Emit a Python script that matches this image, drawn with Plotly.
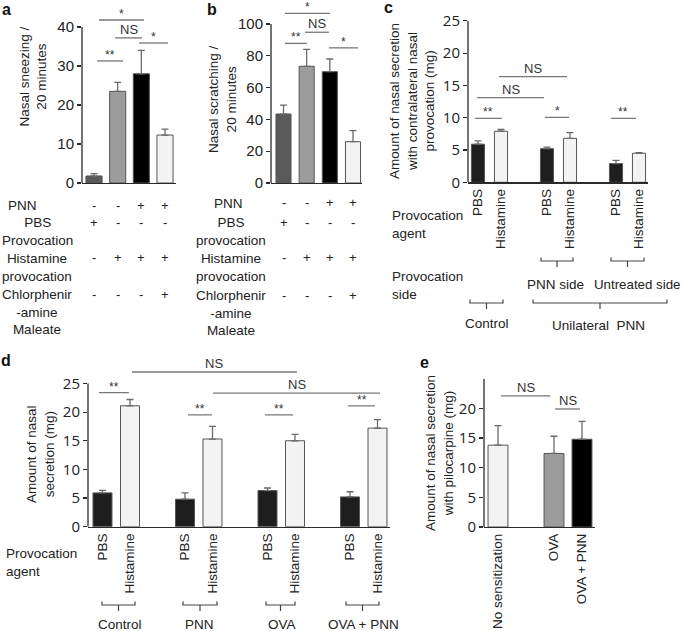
import plotly.graph_objects as go

W, H = 685, 631

# ---------------- data ----------------
a_values = [1.8, 23.5, 28.0, 12.3]
a_errors = [0.6, 2.3, 6.0, 1.5]
b_values = [43.4, 73.4, 70.0, 26.0]
b_errors = [5.6, 10.6, 8.0, 7.0]
a_row_labels = ["PNN", "PBS<br>Provocation", "Histamine<br>provocation", "Chlorphenir<br>-amine<br>Maleate"]
b_row_labels = ["PNN", "PBS<br>provocation", "Histamine<br>provocation", "Chlorphenir<br>-amine<br>Maleate"]
ab_signs = [["-", "-", "+", "+"],
            ["+", "-", "-", "-"],
            ["-", "+", "+", "+"],
            ["-", "-", "-", "+"]]

c_agents = ["PBS", "Histamine", "PBS", "Histamine", "PBS", "Histamine"]
c_values = [5.9, 7.9, 5.2, 6.8, 2.9, 4.5]
c_errors = [0.5, 0.3, 0.25, 0.9, 0.5, 0.1]

d_agents = ["PBS", "Histamine"] * 4
d_groups = ["Control", "PNN", "OVA", "OVA + PNN"]
d_values = [5.9, 21.1, 4.8, 15.3, 6.3, 15.0, 5.2, 17.2]
d_errors = [0.45, 1.1, 1.1, 2.2, 0.45, 1.1, 0.9, 1.5]

e_labels = ["No sensitization", "OVA", "OVA + PNN"]
e_values = [13.8, 12.4, 14.8]
e_errors = [3.3, 2.9, 3.0]

# significance bars: (from, to, height, label)
a_sig = [(0.13, 1.23, 31.3, "**"), (0.21, 2.11, 41.8, "*"), (0.89, 2.03, 37.2, "NS"), (1.9, 3.13, 35.9, "*")]
b_sig = [(0.06, 2.01, 106.7, "*"), (0.93, 1.96, 94.8, "NS"), (0.06, 1.01, 87.8, "**"), (1.96, 3.22, 85.0, "*")]
c_sig = [(-0.13, 1.04, 9.9, "**"), (2.91, 3.96, 10.05, "*"), (5.78, 6.87, 9.9, "**"),
         (-0.04, 2.87, 13.1, "NS"), (0.91, 3.87, 16.35, "NS")]
d_sig = [(-0.13, 0.96, 23.4, "**"), (3.11, 3.98, 19.5, "**"), (5.91, 6.93, 19.5, "**"), (8.93, 9.91, 21.1, "**"),
         (1.07, 7.07, 27.0, "NS"), (4.02, 10.09, 23.3, "NS")]
e_sig = [(0.11, 1.86, 22.1, "NS"), (2.04, 2.93, 19.9, "NS")]

# ---------------- styles ----------------
TXT = "#222222"
AX = "#2a2a2a"
SIGC = "#777777"
ARIAL = "Liberation Sans, Arial, sans-serif"
CAL = "Open Sans, sans-serif"
DARK, MID, BLACK, LIGHT = "#595959", "#9c9c9c", "#000000", "#f3f3f3"
BLK2 = "#1e1e1e"

def pxx(x):
    return x / W

def pyy(y):
    return 1 - y / H

# panel geometry (pixel layout)
geo = {
    "a": dict(xl=82, xr=176, c0=94, u=23.67, y0=183, ys=3.9, yt=8, ymax=40, dt=10, bw=0.68, yfont=ARIAL, yfs=15),
    "b": dict(xl=271, xr=362, c0=283.5, u=23.17, y0=183, ys=1.59, yt=6, ymax=100, dt=20, bw=0.65, yfont=ARIAL, yfs=15),
    "c": dict(xl=468, xr=648, c0=478, u=23, y0=182.3, ys=6.46, yt=20.7, ymax=25, dt=5, bw=0.57, yfont=CAL, yfs=15),
    "d": dict(xl=88, xr=390, c0=102.5, u=27.5, y0=526.7, ys=5.73, yt=362, ymax=25, dt=5, bw=0.69, yfont=CAL, yfs=15),
    "e": dict(xl=484, xr=595, c0=498, u=28, y0=527, ys=5.93, yt=379, ymax=25, dt=5, bw=0.71, yfont=CAL, yfs=15),
}

fig = go.Figure()
shapes = []
annotations = []

c_pos = [g * 3 + i for g in range(3) for i in range(2)]
d_pos = [g * 3 + i for g in range(4) for i in range(2)]
e_pos = [0, 2, 3]

panel_data = {
    "a": (list(range(4)), a_values, a_errors, [DARK, MID, BLACK, LIGHT], a_sig),
    "b": (list(range(4)), b_values, b_errors, [DARK, MID, BLACK, LIGHT], b_sig),
    "c": (c_pos, c_values, c_errors, [BLK2, LIGHT] * 3, c_sig),
    "d": (d_pos, d_values, d_errors, [BLK2, LIGHT] * 4, d_sig),
    "e": (e_pos, e_values, e_errors, [LIGHT, MID, BLACK], e_sig),
}

layout_axes = {}
for n, key in enumerate(["a", "b", "c", "d", "e"], start=1):
    g = geo[key]
    xr = "x" if n == 1 else f"x{n}"
    yr = "y" if n == 1 else f"y{n}"
    xa = "xaxis" if n == 1 else f"xaxis{n}"
    ya = "yaxis" if n == 1 else f"yaxis{n}"
    pos, vals, errs, cols, sig = panel_data[key]

    fig.add_trace(go.Bar(
        x=pos, y=vals, width=g["bw"], xaxis=xr, yaxis=yr,
        marker=dict(color=cols, line=dict(color="#555555", width=1)),
        error_y=dict(type="data", array=errs, arrayminus=[0] * len(errs), symmetric=False,
                     color="#6a6a6a", thickness=1.3, width=3.5),
        hoverinfo="skip",
    ))

    xrange = [(g["xl"] - g["c0"]) / g["u"], (g["xr"] - g["c0"]) / g["u"]]
    yrange = [0, (g["y0"] - g["yt"]) / g["ys"]]
    xax = dict(domain=[pxx(g["xl"]), pxx(g["xr"])], range=xrange, anchor=yr, automargin=False,
               showline=True, linecolor=AX, linewidth=1.3, showgrid=False, zeroline=False,
               ticks="", showticklabels=False, fixedrange=True)
    if key == "c":
        xax.update(showticklabels=True, tickvals=c_pos, ticktext=c_agents, tickangle=-90,
                   tickfont=dict(family=ARIAL, size=13.5, color=TXT))
    if key == "d":
        xax.update(showticklabels=True, tickvals=d_pos, ticktext=d_agents, tickangle=-90,
                   tickfont=dict(family=ARIAL, size=13.5, color=TXT))
    if key == "e":
        xax.update(showticklabels=True, tickvals=e_pos, ticktext=e_labels, tickangle=-90,
                   tickfont=dict(family=ARIAL, size=13.5, color=TXT))
    layout_axes[xa] = xax
    layout_axes[ya] = dict(domain=[pyy(g["y0"]), pyy(g["yt"])], range=yrange, anchor=xr, automargin=False,
                           showline=False, showgrid=False, zeroline=False,
                           tickmode="linear", tick0=0, dtick=g["dt"],
                           ticks="outside", ticklen=4, tickwidth=1.2, tickcolor=AX,
                           tickfont=dict(family=g["yfont"], size=g["yfs"], color=TXT),
                           fixedrange=True)
    # y axis line only up to the top tick
    shapes.append(dict(type="line", xref=f"{xr} domain", yref=yr, x0=0, x1=0, y0=0, y1=g["ymax"],
                       line=dict(color=AX, width=1.3)))
    # significance bars
    for (s0, s1, h, lab) in sig:
        shapes.append(dict(type="line", xref=xr, yref=yr, x0=s0, x1=s1, y0=h, y1=h,
                           line=dict(color=SIGC, width=1.3)))
        small = lab != "NS"
        annotations.append(dict(xref=xr, yref=yr, x=(s0 + s1) / 2, y=h, text=lab, showarrow=False,
                                yanchor="bottom", yshift=-3 if small else -1,
                                font=dict(family=ARIAL, size=12 if small else 13, color="#333333")))

# ---------------- panel letters ----------------
for lab, x, y in [("a", 6, 9), ("b", 212, 9), ("c", 388, 8), ("d", 6, 361), ("e", 424, 362)]:
    annotations.append(dict(xref="paper", yref="paper", x=pxx(x), y=pyy(y), text=f"<b>{lab}</b>",
                            showarrow=False, xanchor="center", yanchor="middle",
                            font=dict(family=ARIAL, size=16, color="#111111")))

# ---------------- y axis titles ----------------
titles = [
    ("Nasal sneezing /<br>20 minutes", 33.5, 77),
    ("Nasal scratching /<br>20 minutes", 223, 99),
    ("Amount of nasal secretion<br>with contralateral nasal<br>provocation (mg)", 412, 101),
    ("Amount of nasal<br>secretion (mg)", 40, 454),
    ("Amount of nasal secretion<br>with pilocarpine (mg)", 439, 453),
]
for t, x, y in titles:
    annotations.append(dict(xref="paper", yref="paper", x=pxx(x), y=pyy(y), text=t, textangle=-90,
                            showarrow=False, xanchor="center", yanchor="middle",
                            font=dict(family=ARIAL, size=13.5, color=TXT)))

# ---------------- tables under a and b ----------------
row_y_a = [205, 222, 258, 294]
row_y_b = [203, 222, 258, 295]
for key, xr, labels, lx, rows, pnnx in [("a", "x", a_row_labels, 37, row_y_a, 22),
                                         ("b", "x2", b_row_labels, 231, row_y_b, 228)]:
    for r, (lab, ry) in enumerate(zip(labels, rows)):
        cx = pnnx if r == 0 else lx
        annotations.append(dict(xref="paper", yref="paper", x=pxx(cx), y=pyy(ry - 9), text=lab,
                                showarrow=False, xanchor="center", yanchor="top", align="center",
                                font=dict(family=ARIAL, size=13.5, color=TXT)))
        for i, s in enumerate(ab_signs[r]):
            annotations.append(dict(xref=xr, yref="paper", x=i, y=pyy(ry), text=s, showarrow=False,
                                    xanchor="center", yanchor="middle",
                                    font=dict(family=ARIAL, size=13, color=TXT)))

# ---------------- row labels and brackets for c and d ----------------
def bracket(x0, x1, y, xm=None, up=3.5, down=6):
    if xm is None:
        xm = (x0 + x1) / 2
    path = (f"M {pxx(x0)},{pyy(y - up)} L {pxx(x0)},{pyy(y)} L {pxx(x1)},{pyy(y)} L {pxx(x1)},{pyy(y - up)} "
            f"M {pxx(xm)},{pyy(y)} L {pxx(xm)},{pyy(y + down)}")
    return dict(type="path", xref="paper", yref="paper", path=path, line=dict(color="#444444", width=1.2))

def text(t, x, y, xanchor="center", align="center", size=13.5):
    return dict(xref="paper", yref="paper", x=pxx(x), y=pyy(y), text=t, showarrow=False,
                xanchor=xanchor, yanchor="middle", align=align,
                font=dict(family=ARIAL, size=size, color=TXT))

annotations.append(text("Provocation<br>agent", 390, 224, xanchor="left", align="left"))
annotations.append(text("Provocation<br>side", 390, 285, xanchor="left", align="left"))
annotations.append(text("PNN side", 555, 284))
annotations.append(text("Untreated side", 637, 284, size=13.3))
annotations.append(text("Control", 487, 324))
annotations.append(text("Unilateral  PNN", 598, 325))
shapes.append(bracket(541, 573, 261))
shapes.append(bracket(611, 644, 261))
shapes.append(bracket(470, 503, 303))
shapes.append(bracket(533, 667, 303, xm=600))

annotations.append(text("Provocation<br>agent", 4, 562, xanchor="left", align="left"))
for (x0, x1), lab, lxc in zip([(102, 135), (183, 217), (266, 295), (346, 379)], d_groups, [120, 200, 282, 363]):
    shapes.append(bracket(x0, x1, 605))
    annotations.append(text(lab, lxc, 624))

fig.update_layout(
    width=W, height=H, margin=dict(l=0, r=0, t=0, b=0, autoexpand=False),
    paper_bgcolor="white", plot_bgcolor="white", showlegend=False,
    bargap=0, shapes=shapes, annotations=annotations,
    font=dict(family=ARIAL, color=TXT),
    **layout_axes,
)

fig.write_html("out.html", config={"displayModeBar": False, "staticPlot": True},
               post_script="document.body.style.margin='0';document.body.style.overflow='hidden';")
